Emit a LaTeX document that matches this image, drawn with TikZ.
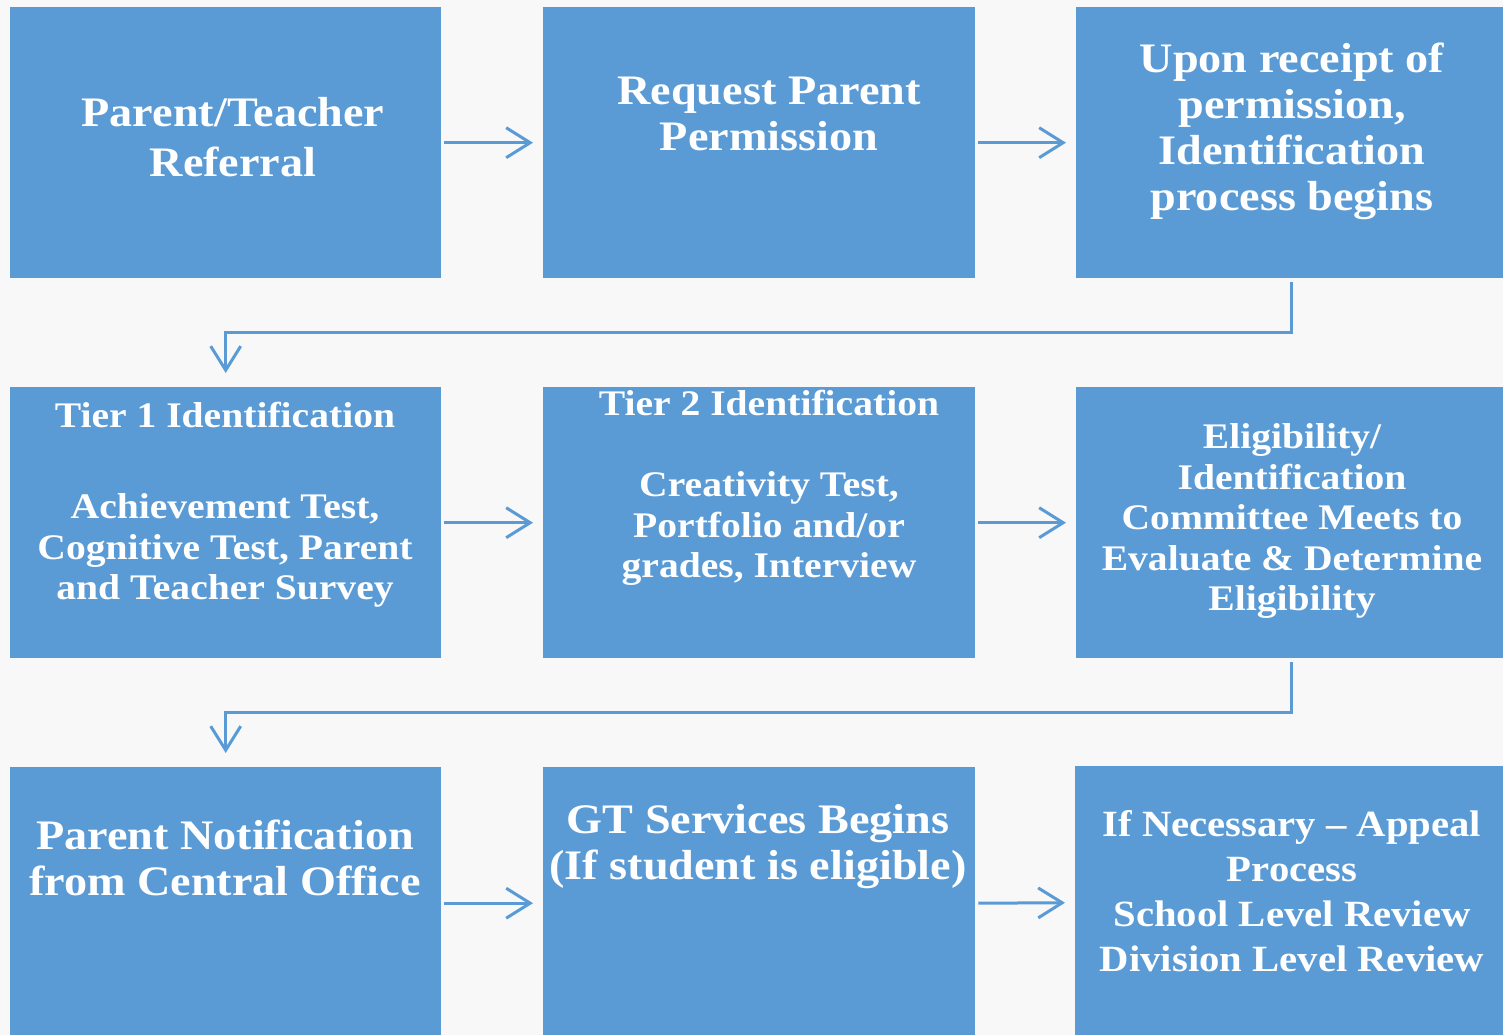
\documentclass[tikz,border=0pt]{standalone}
\usepackage{fontspec}
\setmainfont[FakeStretch=1.1]{Liberation Serif}
\usetikzlibrary{arrows.meta}
\definecolor{boxblue}{RGB}{91,155,213}
\definecolor{bg}{RGB}{248,248,248}
\tikzset{
  box/.style={fill=boxblue, draw=none, inner sep=0pt, anchor=north west},
  txt/.style={text=white, align=center, font=\bfseries, inner sep=0pt},
  arr/.style={draw=boxblue, line width=3pt, -{Straight Barb[length=24pt,width=30pt]}},
}
\begin{document}
\begin{tikzpicture}[x=1pt,y=-1pt]
\fill[bg] (0,0) rectangle (1503,1035);
\useasboundingbox (0,0) rectangle (1503,1035);
% row 1
\node[box, minimum width=431pt, minimum height=271pt] (b1) at (10,7) {};
\node[box, minimum width=432pt, minimum height=271pt] (b2) at (543,7) {};
\node[box, minimum width=427pt, minimum height=271pt] (b3) at (1076,7) {};
% row 2
\node[box, minimum width=431pt, minimum height=271pt] (b4) at (10,387) {};
\node[box, minimum width=432pt, minimum height=271pt] (b5) at (543,387) {};
\node[box, minimum width=427pt, minimum height=271pt] (b6) at (1076,387) {};
% row 3
\node[box, minimum width=431pt, minimum height=268pt] (b7) at (10,767) {};
\node[box, minimum width=432pt, minimum height=268pt] (b8) at (543,767) {};
\node[box, minimum width=428pt, minimum height=269pt] (b9) at (1075,766) {};
% texts
\node[txt, font=\bfseries\fontsize{42}{50}\selectfont] (t1) at (233,137) {Parent/Teacher\\Referral};
\node[txt, font=\bfseries\fontsize{42}{46}\selectfont] (t2) at (769,114) {Request Parent\\Permission};
\node[txt, font=\bfseries\fontsize{42}{46}\selectfont] (t3) at (1292,131) {Upon receipt of\\permission,\\Identification\\process begins};
\node[txt, font=\bfseries\fontsize{36}{40.5}\selectfont] (t4) at (225,505) {Tier 1 Identification\\[10pt]\mbox{}\\Achievement Test,\\Cognitive Test, Parent\\and Teacher Survey};
\node[txt, font=\bfseries\fontsize{36}{40.5}\selectfont] (t5) at (769,488) {Tier 2 Identification\\[0pt]\mbox{}\\Creativity Test,\\Portfolio and/or\\grades, Interview};
\node[txt, font=\bfseries\fontsize{36}{40.5}\selectfont] (t6) at (1292,521) {Eligibility/\\Identification\\Committee Meets to\\Evaluate \& Determine\\Eligibility};
\node[txt, font=\bfseries\fontsize{42}{46}\selectfont] (t7) at (225,858) {Parent Notification\\from Central Office};
\node[txt, font=\bfseries\fontsize{42}{46}\selectfont] (t8) at (758,847) {GT Services Begins\\(If student is eligible)};
\node[txt, font=\bfseries\fontsize{37}{45}\selectfont] (t9) at (1292,891) {If Necessary -- Appeal\\Process\\School Level Review\\Division Level Review};
% horizontal arrows
\draw[arr, shorten <=3pt, shorten >=10pt] (b1) -- (b2);
\draw[arr, shorten <=3pt, shorten >=10pt] (b2) -- (b3);
\draw[arr, shorten <=3pt, shorten >=10pt] (b4) -- (b5);
\draw[arr, shorten <=3pt, shorten >=10pt] (b5) -- (b6);
\draw[arr, shorten <=3pt, shorten >=10pt] ([yshift=-2pt]b7.east) -- ([yshift=-2pt]b8.west);
\draw[arr, shorten <=3pt, shorten >=10pt] ([yshift=-2pt]b8.east) -- ([yshift=-2pt]b9.west);
% elbow connectors
\draw[arr, shorten <=4pt, shorten >=14pt] ([xshift=2pt]b3.south) -- ([xshift=2pt]b3.south |- 0,332) -| (b4.north);
\draw[arr, shorten <=4pt, shorten >=14pt] ([xshift=2pt]b6.south) -- ([xshift=2pt]b6.south |- 0,712) -| (b7.north);
\end{tikzpicture}
\end{document}
